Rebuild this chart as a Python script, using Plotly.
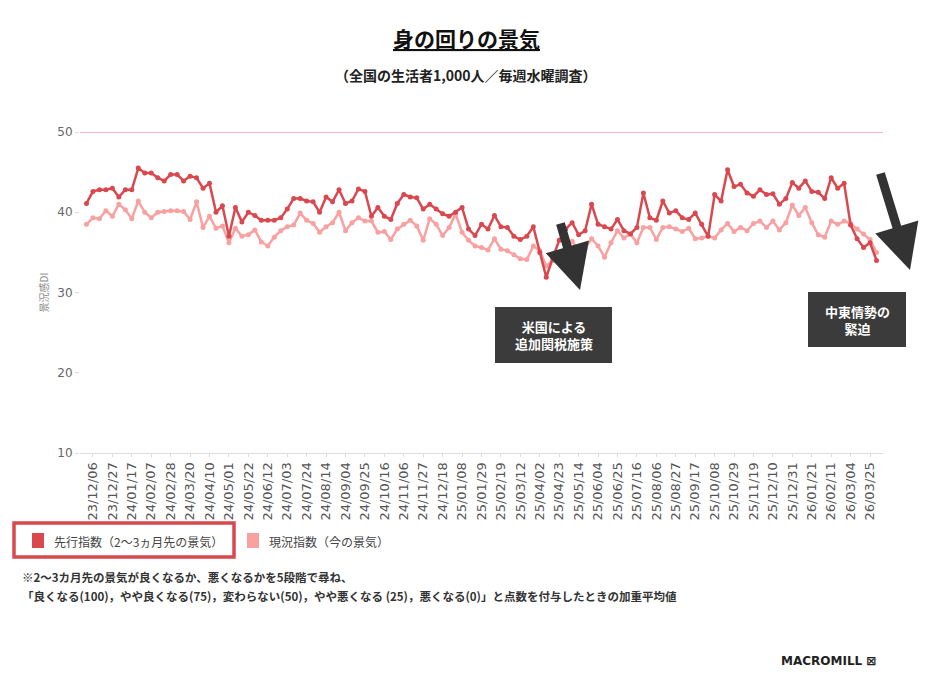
import pandas as pd
import plotly.graph_objects as go

# weekly survey, 23/11/29 - 26/04/01
dates = pd.date_range("2023-11-29", periods=123, freq="7D").strftime("%y/%m/%d").tolist()

leading = [41.1, 42.6, 42.8, 42.8, 43.0, 41.9, 42.8, 42.8, 45.5, 44.9,
           44.9, 44.3, 43.9, 44.7, 44.7, 43.9, 44.5, 44.3, 43.0, 43.6,
           40.0, 40.8, 37.0, 40.6, 38.8, 40.0, 39.6, 39.0, 39.0, 39.0,
           39.3, 40.4, 41.7, 41.7, 41.4, 41.3, 40.0, 41.9, 41.3, 42.8,
           41.1, 41.4, 42.9, 42.6, 39.5, 40.6, 39.5, 39.1, 41.1, 42.2,
           41.9, 41.8, 40.4, 41.0, 40.4, 39.8, 39.5, 40.0, 40.6, 37.9,
           37.1, 38.5, 37.9, 39.6, 38.2, 38.1, 37.0, 36.6, 37.0, 38.2,
           35.0, 31.9, 34.3, 36.5, 37.9, 38.7, 37.2, 37.7, 41.0, 38.5,
           38.2, 37.9, 39.1, 37.7, 37.3, 38.1, 42.4, 39.3, 39.0, 41.4,
           39.9, 40.2, 39.3, 39.1, 39.9, 38.5, 37.0, 42.2, 41.4, 45.3,
           43.2, 43.5, 42.4, 42.0, 42.8, 42.2, 42.3, 41.0, 41.7, 43.7,
           43.0, 43.9, 42.6, 42.5, 41.7, 44.3, 43.0, 43.6, 38.4, 36.7,
           35.6, 36.2, 34.0]

current = [38.5, 39.3, 39.2, 40.2, 39.5, 41.0, 40.3, 39.2, 41.4, 40.0,
           39.3, 40.0, 40.1, 40.2, 40.2, 40.1, 39.1, 41.3, 38.1, 39.5,
           38.0, 38.3, 36.2, 38.0, 37.0, 37.2, 37.8, 36.3, 35.8, 36.9,
           37.7, 38.2, 38.4, 39.9, 39.0, 38.6, 37.5, 38.2, 38.7, 40.0,
           37.7, 38.7, 39.3, 38.9, 38.9, 37.5, 37.6, 36.6, 37.9, 38.5,
           39.0, 38.3, 36.5, 39.2, 38.5, 37.1, 38.1, 39.8, 37.5, 36.5,
           35.8, 35.6, 35.3, 36.7, 35.4, 35.2, 34.7, 34.2, 34.1, 35.8,
           35.2, 33.3, 34.0, 34.7, 35.5, 36.4, 35.3, 35.5, 36.7, 35.8,
           34.4, 36.2, 37.7, 36.8, 37.3, 36.2, 38.1, 38.1, 36.6, 38.1,
           38.2, 37.9, 37.6, 38.0, 36.7, 36.8, 37.0, 36.8, 37.8, 38.6,
           37.6, 38.1, 37.7, 38.6, 38.9, 38.1, 38.9, 37.8, 38.7, 40.9,
           39.6, 40.6, 38.7, 37.2, 36.9, 38.9, 38.5, 38.9, 38.6, 37.9,
           37.3, 36.6, 35.0]

tick_labels = dates[1::3]

RED = "#d9484f"
PINK = "#f9a0a0"
FONT = "Noto Sans CJK JP"

fig = go.Figure()
fig.add_trace(go.Scatter(x=dates, y=current, mode="lines+markers", name="現況指数（今の景気）",
                         line=dict(color=PINK, width=2.5), marker=dict(size=5, color=PINK)))
fig.add_trace(go.Scatter(x=dates, y=leading, mode="lines+markers", name="先行指数（2～3ヵ月先の景気）",
                         line=dict(color=RED, width=2.5), marker=dict(size=5, color=RED)))

OFF = 8  # page body margin
W, H = 933 - OFF, 676 - OFF
L, R, T = 80 - OFF, 50, 132 - OFF
B = H - (453 - OFF)
pw, ph = W - L - R, H - T - B


def px(x):
    return (x - OFF - L) / pw


def py(y):
    return (H - B - (y - OFF)) / ph


fig.update_layout(
    width=W, height=H, plot_bgcolor="white", paper_bgcolor="white",
    margin=dict(l=L, r=R, t=T, b=B), showlegend=False,
    font=dict(family=FONT, color="#333"),
    xaxis=dict(type="category", tickmode="array", tickvals=tick_labels, ticktext=tick_labels,
               tickangle=-90, tickfont=dict(size=13, color="#555", family="DejaVu Sans"),
               range=[-1, 123], showgrid=False, showline=True, linecolor="#ddd",
               ticks="outside", ticklen=3, tickcolor="#ddd"),
    yaxis=dict(range=[10, 50], tickvals=[10, 20, 30, 40, 50], showgrid=False,
               tickfont=dict(size=12, color="#666", family="DejaVu Sans"),
               ticks="outside", ticklen=4, tickcolor="#ddd", zeroline=False,
               title=dict(text="景況感DI", font=dict(size=10, color="#888"), standoff=6)),
)

# 50 line
fig.add_shape(type="line", xref="paper", yref="y", x0=0, x1=1, y0=50, y1=50,
              line=dict(color="#f3a0a0", width=1.5))


def text(x, y, t, size, color="#333", anchor="center", family=FONT):
    fig.add_annotation(xref="paper", yref="paper", x=px(x), y=py(y), text=t, showarrow=False,
                       xanchor=anchor, yanchor="middle", font=dict(size=size, color=color, family=family))


text(466, 38, "<b><u>身の回りの景気</u></b>", 21, "#111")
text(466, 75, "<b>（全国の生活者1,000人／毎週水曜調査）</b>", 14, "#222")

# event boxes
boxes = [(495, 612, 307, 363, "米国による<br>追加関税施策"), (808, 906, 292, 347, "中東情勢の<br>緊迫")]
for x0, x1, y0, y1, txt in boxes:
    fig.add_shape(type="rect", xref="paper", yref="paper", x0=px(x0), x1=px(x1), y0=py(y1), y1=py(y0),
                  fillcolor="#3b3b3b", line=dict(width=0))
    text((x0 + x1) / 2, (y0 + y1) / 2, "<b>" + txt + "</b>", 13, "white")

# arrows
for hx, hy, tx, ty in [(580, 290, 560, 222), (910, 270, 880, 172)]:
    fig.add_annotation(xref="paper", yref="paper", x=px(hx), y=py(hy), ax=tx - hx, ay=ty - hy,
                       text="", showarrow=True, arrowhead=2, arrowsize=1, arrowwidth=9,
                       arrowcolor="#333")

# legend
fig.add_shape(type="rect", xref="paper", yref="paper", x0=px(14), x1=px(234), y0=py(557), y1=py(523),
              line=dict(color=RED, width=3.5), fillcolor="rgba(0,0,0,0)")
for sx, col, lx, txt in [(32, RED, 52, "先行指数（2～3ヵ月先の景気）"), (247, PINK, 267, "現況指数（今の景気）")]:
    fig.add_shape(type="rect", xref="paper", yref="paper", x0=px(sx), x1=px(sx + 12), y0=py(548), y1=py(533),
                  fillcolor=col, line=dict(width=0))
    text(lx, 541, txt, 12, "#444", "left")

text(20, 577, "<b>※2～3カ月先の景気が良くなるか、悪くなるかを5段階で尋ね、</b>", 11.5, "#333", "left")
text(20, 596, "<b>「良くなる(100)，やや良くなる(75)，変わらない(50)，やや悪くなる (25)，悪くなる(0)」と点数を付与したときの加重平均値</b>",
     11.5, "#333", "left")
text(878, 661, "<b>MACROMILL ⊠</b>", 12, "#222", "right", "DejaVu Sans")

fig.write_html("out.html")
